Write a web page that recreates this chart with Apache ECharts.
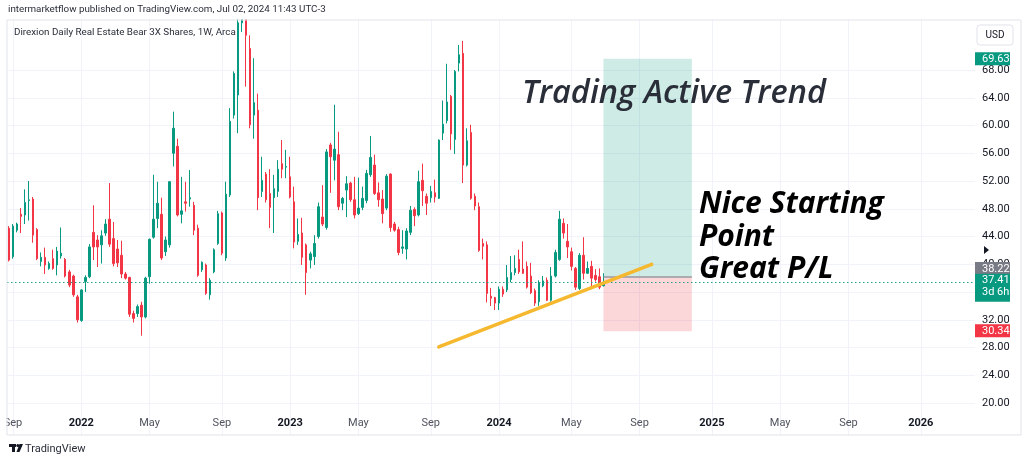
<!DOCTYPE html>
<html><head><meta charset="utf-8">
<script src="https://cdn.jsdelivr.net/npm/echarts@6/dist/echarts.min.js"></script>
<style>html,body{margin:0;padding:0;background:#fff}#c{width:1024px;height:463px}</style>
</head><body><div id="c"></div>
<script>
// ---- data (weekly candles, first week 2021-08-30) ----
const firstWeek = [2021, 7, 30];
const weekCount = 241;
const opens = [45.2,41.1,44.9,47.2,47.1,49.2,49.4,45.0,40.4,41.0,39.4,40.8,39.9,41.2,40.7,38.9,38.3,35.3,31.9,37.5,
38.2,44.6,43.5,42.8,44.5,46.5,43.7,42.2,41.3,38.6,38.1,32.9,32.9,34.1,32.4,38.2,43.9,46.6,47.2,41.8,
42.8,56.0,57.0,47.2,49.0,49.4,48.5,45.2,39.2,39.9,35.6,38.9,43.0,47.4,40.9,50.0,61.5,64.4,74.8,79.0,
71.1,61.5,62.2,50.5,53.0,50.2,49.6,50.5,54.5,54.0,52.6,49.0,43.3,44.5,42.8,40.6,41.1,44.0,46.8,45.3,
57.2,55.0,55.8,48.8,50.7,51.7,49.3,47.3,48.2,49.2,52.9,54.3,50.3,49.4,48.1,53.0,45.8,45.0,42.3,42.2,
44.6,47.9,47.1,52.1,49.8,49.6,50.3,49.5,58.9,60.7,64.2,58.0,69.0,70.4,54.3,59.0,49.8,48.3,43.0,42.8,
35.4,35.2,34.4,36.4,36.3,37.8,38.8,40.7,39.3,39.7,38.3,36.2,34.6,36.9,37.7,34.8,38.3,40.7,45.9,43.3,
41.8,39.4,36.5,41.3,38.7,39.7,38.4,38.2,36.9];
const closes = [40.6,45.5,45.8,46.9,48.9,49.3,44.2,40.8,41.0,39.9,40.1,39.4,41.9,41.6,38.3,37.0,35.6,32.0,36.3,38.1,
42.5,42.5,42.5,44.1,45.8,42.9,40.1,40.2,38.6,38.0,32.8,32.2,33.9,32.4,38.0,43.6,46.5,48.8,40.9,43.5,
51.9,59.6,47.1,47.7,48.8,49.6,44.9,38.4,40.3,35.8,37.7,42.1,47.3,41.6,50.1,60.6,67.5,74.8,79.0,73.0,
60.1,63.3,49.6,52.1,49.3,48.2,50.9,53.7,53.7,54.1,49.7,43.2,44.3,41.0,38.8,41.5,43.0,48.3,45.8,56.2,
55.5,56.6,48.3,49.5,51.6,49.3,47.1,48.1,49.5,53.1,55.4,50.2,49.3,47.3,52.7,45.3,44.9,41.7,42.5,44.8,
47.8,47.0,51.9,50.6,48.8,50.5,49.7,57.9,60.2,63.4,58.8,67.8,70.2,54.3,57.8,49.5,48.4,42.0,42.6,35.8,
35.1,34.4,36.4,35.7,38.1,38.8,39.4,38.9,38.7,36.7,35.9,34.4,37.3,37.6,34.8,38.3,41.7,46.5,44.5,42.5,
39.7,36.7,41.3,38.7,39.4,38.0,37.8,36.7,37.41];
const lows = [40.4,40.8,44.6,44.5,45.8,46.3,43.1,40.6,39.7,38.6,39.2,39.2,38.4,40.8,38.1,36.7,35.3,31.6,31.7,36.0,
38.0,40.6,39.6,40.1,44.1,42.5,39.7,39.6,38.0,37.8,32.4,31.6,32.4,29.7,32.2,37.2,43.7,45.2,40.6,41.2,
42.4,54.1,46.9,45.9,47.6,48.3,44.2,38.2,38.9,35.6,34.9,38.7,42.8,41.3,40.5,49.7,61.0,58.9,73.5,65.6,
59.6,58.1,47.8,49.7,48.9,45.2,44.5,49.7,52.4,52.4,49.5,42.3,42.8,39.9,35.6,39.4,39.9,43.7,45.5,45.0,
50.3,52.1,47.8,47.8,46.8,49.0,46.6,47.1,47.8,48.8,52.6,50.0,48.3,45.9,47.8,44.7,44.7,41.3,41.5,40.7,
44.2,45.5,46.9,48.4,47.1,48.9,48.9,49.4,57.9,60.3,56.5,55.9,67.8,51.7,54.1,49.3,47.8,41.8,40.7,34.5,
34.0,33.4,33.4,35.3,36.0,37.4,38.4,38.6,38.6,36.5,35.7,34.0,34.0,36.7,34.7,34.6,38.1,40.5,43.7,40.9,
39.1,36.3,36.3,37.8,38.6,36.5,37.5,36.4,36.8];
const highs = [45.5,45.8,46.0,48.1,50.8,52.0,49.7,45.2,41.7,42.4,40.4,42.1,42.5,45.3,40.9,39.2,38.5,35.6,36.4,38.4,
42.9,48.5,44.2,44.9,46.5,51.7,46.1,43.5,43.4,38.9,38.2,33.3,34.2,34.6,38.2,43.7,52.9,51.9,49.6,44.0,
52.0,62.0,58.1,52.6,51.9,53.6,49.0,45.7,40.4,40.1,38.0,42.3,47.7,47.6,51.9,62.5,67.8,76.5,81.0,80.0,
73.0,69.7,64.6,55.5,53.3,53.7,52.9,55.0,57.9,56.5,55.5,51.2,46.6,46.7,43.0,41.8,44.2,48.9,51.4,56.6,
57.5,63.0,59.1,49.7,52.7,51.9,52.6,52.5,51.2,53.6,58.5,55.8,51.8,50.7,53.0,53.1,46.1,45.4,44.9,45.2,
48.4,48.2,53.5,54.5,50.2,51.3,52.2,58.0,63.6,68.9,64.4,68.0,71.6,72.2,59.6,60.1,50.2,48.9,43.7,43.3,
36.6,35.3,36.8,36.8,39.9,41.2,41.3,42.1,43.3,40.4,40.2,36.5,37.7,38.3,38.1,39.6,42.1,47.7,46.6,45.8,
42.4,39.6,41.6,43.9,40.4,40.5,39.3,39.4,38.7];
const priceTicks = [20,24,28,32,36,40,44,48,52,56,60,64,68];
const labelMonths = [0, 4, 8];
const monthNames = ['Jan','Feb','Mar','Apr','May','Jun','Jul','Aug','Sep','Oct','Nov','Dec'];
const tradeStartIdx = 148, tradeEndIdx = 170;
const targetPrice = 69.63, entryPrice = 38.22, stopPrice = 30.34, lastPrice = 37.41;
const trendIdx = [107, 160];
const trendVal = [28.1, 40.0];

// ---- categories ----
const categories = [];
const monthsOf = [];
const t0 = Date.UTC(firstWeek[0], firstWeek[1], firstWeek[2]);
for (let i = 0; i < weekCount; i++) {
  const d = new Date(t0 + i * 7 * 86400000);
  categories.push(d.toISOString().slice(0, 10));
  monthsOf.push(d.getUTCMonth());
}
function isLabelWeek(i) {
  if (i === 0) return false;
  return monthsOf[i] !== monthsOf[i - 1] && labelMonths.indexOf(monthsOf[i]) >= 0;
}
const candleData = opens.map((o, i) => [o, closes[i], lows[i], highs[i]]);

const UP = '#089981', DOWN = '#f23645';
const chart = echarts.init(document.getElementById('c'), null, {renderer: 'canvas'});
chart.setOption({
  animation: false,
  backgroundColor: '#ffffff',
  grid: {left: 7, right: 49, top: 20, bottom: 28, containLabel: false},
  xAxis: {
    type: 'category', data: categories, boundaryGap: true,
    axisLine: {show: false}, axisTick: {show: false},
    axisLabel: {
      inside: true, margin: 6,
      interval: (i) => isLabelWeek(i),
      formatter: (v) => {
        const m = parseInt(v.slice(5, 7), 10) - 1;
        return m === 0 ? '{y|' + v.slice(0, 4) + '}' : '{m|' + monthNames[m] + '}';
      },
      rich: {
        y: {fontSize: 11, fontWeight: 'bold', color: '#131722', fontFamily: 'Roboto'},
        m: {fontSize: 11, color: '#50535e', fontFamily: 'Roboto'}
      }
    },
    splitLine: {show: true, alignWithLabel: true, interval: (i) => isLabelWeek(i), lineStyle: {color: '#f0f3fa', width: 1}}
  },
  yAxis: {
    type: 'value', position: 'right', min: 15.39, max: 75.21,
    axisLine: {show: false},
    axisTick: {show: false, customValues: priceTicks},
    axisLabel: {customValues: priceTicks, formatter: (v) => v.toFixed(2), color: '#131722', fontSize: 11, margin: 7, fontFamily: 'Roboto'},
    splitLine: {show: true, lineStyle: {color: '#f0f3fa', width: 1}}
  },
  series: [
    {
      type: 'candlestick', data: candleData, barWidth: 2, clip: true,
      itemStyle: {color: UP, color0: DOWN, borderColor: UP, borderColor0: DOWN, borderWidth: 1},
      markArea: {
        silent: true,
        data: [
          [{xAxis: categories[tradeStartIdx], yAxis: targetPrice, itemStyle: {color: 'rgba(8,153,129,0.2)'}},
           {xAxis: categories[tradeEndIdx], yAxis: entryPrice}],
          [{xAxis: categories[tradeStartIdx], yAxis: entryPrice, itemStyle: {color: 'rgba(242,54,69,0.2)'}},
           {xAxis: categories[tradeEndIdx], yAxis: stopPrice}]
        ]
      },
      markLine: {
        silent: true, symbol: ['none', 'none'], label: {show: false}, animation: false,
        lineStyle: {color: '#22a08a', type: [1.5, 2.5], width: 1, opacity: 1},
        data: [
          {yAxis: lastPrice, lineStyle: {color: '#22a08a', type: [1.5, 2.5], width: 1}},
          [{coord: [categories[tradeStartIdx], entryPrice], lineStyle: {color: '#9598a1', type: 'solid', width: 1.5}},
           {coord: [categories[tradeEndIdx], entryPrice], lineStyle: {color: '#9598a1', type: 'solid', width: 1.5}}]
        ]
      }
    },
    {
      type: 'line', silent: true, symbol: 'none', z: 5,
      data: [[categories[trendIdx[0]], trendVal[0]], [categories[trendIdx[1]], trendVal[1]]],
      lineStyle: {color: '#f5b82e', width: 3.5, cap: 'round'}
    }
  ]
});

const py = (v) => chart.convertToPixel({yAxisIndex: 0}, v);
function tag(yc, h, color, lines) {
  const els = [{type: 'rect', shape: {x: 975, y: yc - h / 2, width: 35, height: h}, style: {fill: color}, z: 100}];
  lines.forEach((t, j) => els.push({type: 'text', z: 101, style: {x: 982, y: yc - h / 2 + 7 + j * 12, text: t, fill: '#ffffff', font: '11px Roboto', verticalAlign: 'middle'}}));
  return els;
}
const yT = py(targetPrice), yE = py(entryPrice), yL = py(lastPrice), yS = py(stopPrice);
let g = [
  {type: 'rect', shape: {x: 0, y: 0, width: 1024, height: 19.5}, style: {fill: '#fff'}, z: 90},
  {type: 'rect', shape: {x: 0, y: 405, width: 6.5, height: 32}, style: {fill: '#fff'}, z: 90},
  {type: 'rect', shape: {x: 7, y: 20, width: 1014, height: 415}, style: {fill: 'none', stroke: '#e0e3eb', lineWidth: 1}, z: 95},
  {type: 'text', z: 100, style: {x: 8, y: 10, text: 'intermarketflow published on TradingView.com, Jul 02, 2024 11:43 UTC-3', fill: '#2a2e39', font: '9.8px Roboto', verticalAlign: 'middle'}},
  {type: 'text', z: 100, style: {x: 14, y: 33, text: 'Direxion Daily Real Estate Bear 3X Shares, 1W, Arca', fill: '#2a2e39', font: '9.8px Roboto', verticalAlign: 'middle'}},
  {type: 'rect', z: 100, shape: {x: 977, y: 25, width: 36, height: 20, r: 3}, style: {fill: '#fff', stroke: '#e0e3eb', lineWidth: 1}},
  {type: 'text', z: 101, style: {x: 995, y: 35, text: 'USD', fill: '#131722', font: '10px Roboto', align: 'center', verticalAlign: 'middle'}},
  {type: 'polygon', z: 100, shape: {points: [[984, 246], [989, 250], [984, 254]]}, style: {fill: '#131722'}},
  {type: 'text', z: 100, style: {x: 522, y: 94, text: 'Trading Active Trend', fill: '#2a2e39', font: 'italic 600 32.5px "Open Sans"', verticalAlign: 'middle'}},
  {type: 'text', z: 100, style: {x: 699, y: 204, text: 'Nice Starting', fill: '#000000', font: 'italic bold 30px "Open Sans"', verticalAlign: 'middle'}},
  {type: 'text', z: 100, style: {x: 699, y: 237, text: 'Point', fill: '#000000', font: 'italic bold 30px "Open Sans"', verticalAlign: 'middle'}},
  {type: 'text', z: 100, style: {x: 699, y: 269, text: 'Great P/L', fill: '#000000', font: 'italic bold 30px "Open Sans"', verticalAlign: 'middle'}},
  // TradingView logo
  {type: 'rect', z: 100, shape: {x: 9, y: 444, width: 7, height: 3}, style: {fill: '#131722'}},
  {type: 'rect', z: 100, shape: {x: 12, y: 444, width: 3, height: 8}, style: {fill: '#131722'}},
  {type: 'circle', z: 100, shape: {cx: 17.8, cy: 445.5, r: 1.5}, style: {fill: '#131722'}},
  {type: 'polygon', z: 100, shape: {points: [[19.5, 444], [23, 444], [19.5, 452], [16.5, 452]]}, style: {fill: '#131722'}},
  {type: 'text', z: 100, style: {x: 25, y: 449, text: 'TradingView', fill: '#2a2e39', font: '11px Roboto', verticalAlign: 'middle'}}
];
g = g.concat(tag(yT, 13, UP, [targetPrice.toFixed(2)]));
g = g.concat(tag(yE - 8.5, 12, '#787b86', [entryPrice.toFixed(2)]));
g = g.concat(tag(yL + 5.5, 28, UP, [lastPrice.toFixed(2), '3d 6h']));
g = g.concat(tag(yS - 0.5, 13, DOWN, [stopPrice.toFixed(2)]));
chart.setOption({graphic: g});
</script></body></html>
